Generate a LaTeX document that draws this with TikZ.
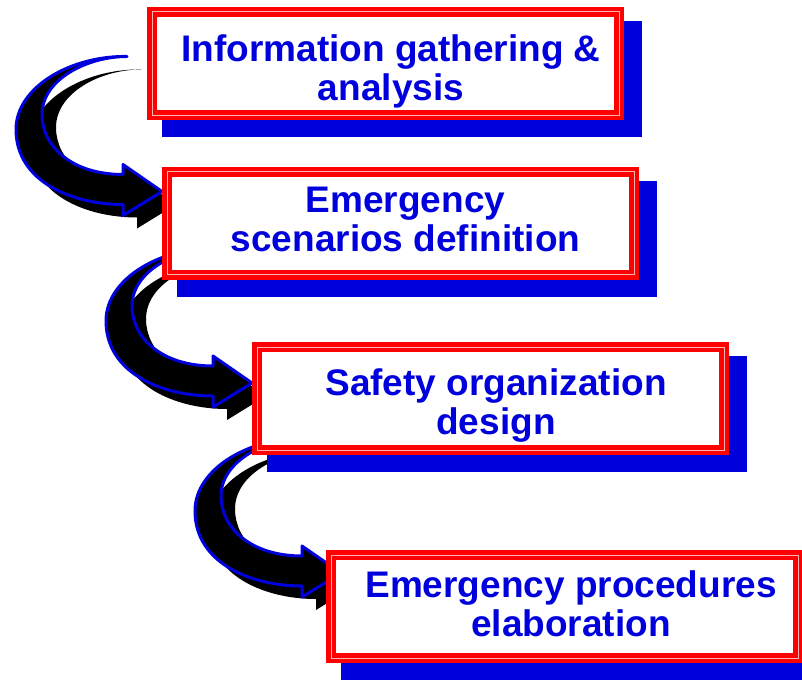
\documentclass[tikz,border=0pt]{standalone}
\usepackage{fontspec}
\setmainfont{Liberation Sans}
\usetikzlibrary{calc}
\definecolor{stepblue}{RGB}{0,0,221}
\definecolor{stepred}{RGB}{255,0,0}
\pgfdeclarelayer{arrowlayer}
\pgfdeclarelayer{shadelayer}
\pgfsetlayers{arrowlayer,shadelayer,main}

% curved C-shaped arrow, tip at the origin, y pointing down
\newcommand\bentoutline{(-35,-135) .. controls (-90,-136) and (-146,-105) .. (-146,-62)
  .. controls (-146,-10) and (-90,13) .. (-39,13) -- (-39,24) -- (0,0) -- (-39,-27) -- (-39,-17)
  .. controls (-90,-17) and (-120,-45) .. (-120,-77)
  .. controls (-120,-112) and (-75,-135) .. (-35,-135) -- cycle}

\tikzset{
  stepbox/.style={draw=stepred, line width=4.5pt, double=red!30, double distance=1pt,
    fill=white, minimum width=467pt, minimum height=103pt, inner sep=0pt, outer sep=0pt},
  steptext/.style={text=stepblue, font=\fontsize{37}{39.5}\selectfont\bfseries,
    align=center, inner sep=0pt},
  bentarrow/.pic={
    \fill[black, shift={(14,13)}] \bentoutline;
    \filldraw[fill=black, draw=stepblue, line width=3pt, line join=round] \bentoutline;
  }
}

\begin{document}
\begin{tikzpicture}[x={(1pt,0)}, y={(0,-1pt)}]
\useasboundingbox (0,0) rectangle (802,682);

% process steps
\node[stepbox] (box1) at (385.5,63.5) {};
\node[stepbox] (box2) at (400.5,223) {};
\node[stepbox] (box3) at (490.5,398.5) {};
\node[stepbox] (box4) at (564.5,606.5) {};

\node[steptext] (t1) at (391,71.4) {Information gathering \&\\analysis};
\node[steptext] (t2) at (405.5,219.3) {Emergency\\scenarios definition};
\node[steptext] (t3) at (496,405.4) {Safety organization\\design};
\node[steptext] (t4) at (571,604) {Emergency procedures\\elaboration};

% drop shadows of the boxes
\begin{pgfonlayer}{shadelayer}
  \foreach \b in {box1,box2,box3,box4}
    \fill[stepblue] ($(\b.north west)+(10,9)$) rectangle ($(\b.south east)+(23,22)$);
\end{pgfonlayer}

% bent arrows leading into the next step
\begin{pgfonlayer}{arrowlayer}
  \pic at ($(box2.north west)+(-5,20)$) {bentarrow};
  \pic at ($(box3.north west)+(-5,36)$) {bentarrow};
  \pic at ($(box4.north west)+(10,18)$) {bentarrow};
\end{pgfonlayer}
\end{tikzpicture}
\end{document}
